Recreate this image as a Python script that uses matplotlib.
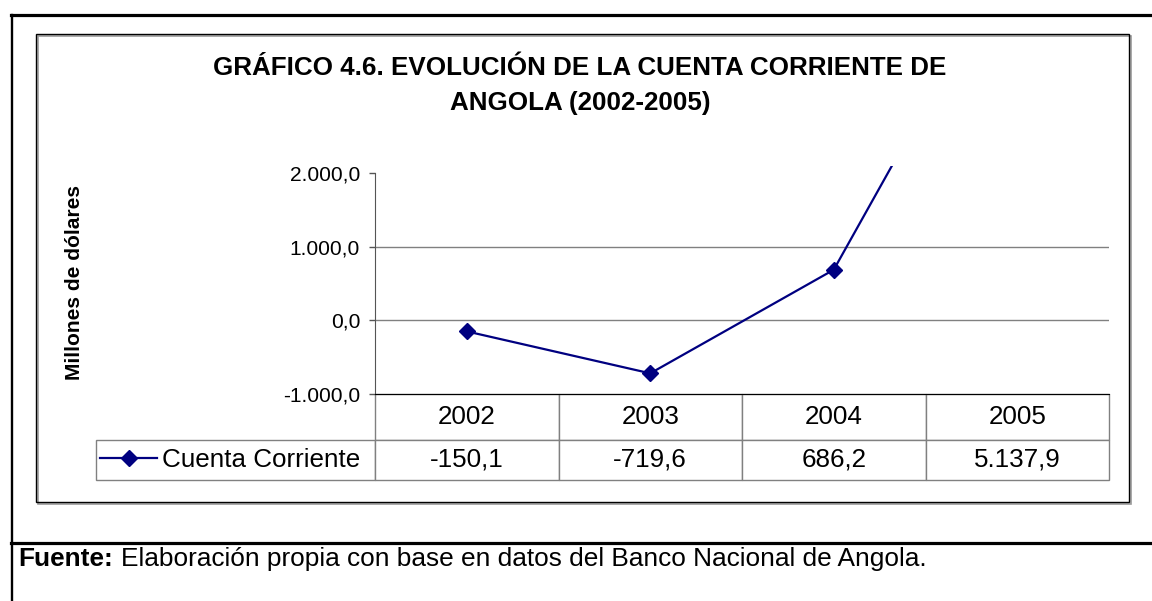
import matplotlib
matplotlib.use("Agg")
import matplotlib.pyplot as plt
from matplotlib.lines import Line2D
from matplotlib.patches import Rectangle
from matplotlib.ticker import FuncFormatter

plt.rcParams["font.family"] = ["Liberation Sans", "DejaVu Sans"]

years = ["2002", "2003", "2004", "2005"]
cuenta_corriente = [-150.1, -719.6, 686.2, 5137.9]
y_ticks = [-1000, 0, 1000, 2000]
grid_values = [0, 1000]
series_name = "Cuenta Corriente"
title = "GRÁFICO 4.6. EVOLUCIÓN DE LA CUENTA CORRIENTE DE\nANGOLA (2002-2005)"
y_label = "Millones de dólares"
source_bold = "Fuente:"
source_text = "Elaboración propia con base en datos del Banco Nacional de Angola."

NAVY = "#000080"
W, H = 1152, 601


def es_number(v, pos=None):
    # 1234.5 -> "1.234,5"
    s = f"{v:,.1f}"
    return s.replace(",", "X").replace(".", ",").replace("X", ".")


def fx(px):
    return px / W


def fy(px):
    return 1 - px / H


fig = plt.figure(figsize=(W / 100, H / 100), dpi=100)

# frame lines of the page
fig.add_artist(Line2D([fx(11), 1], [fy(15), fy(15)], color="black", lw=2.3))
fig.add_artist(Line2D([fx(12), fx(12)], [fy(15), 0], color="black", lw=1.7))
fig.add_artist(Line2D([fx(11), 1], [fy(543), fy(543)], color="black", lw=2.3))

# chart area box with small shadow
bx0, by0, bx1, by1 = 36, 34, 1129, 502
fig.add_artist(Rectangle((fx(bx0 + 2), fy(by1 + 2)), fx(bx1 - bx0), (by1 - by0) / H,
                         fill=False, edgecolor="#9a9a9a", lw=1.2))
fig.add_artist(Rectangle((fx(bx0), fy(by1)), fx(bx1 - bx0), (by1 - by0) / H,
                         fill=False, edgecolor="black", lw=1.0))

# plot area
y_top_px, y_bot_px = 165.6, 394
ax = fig.add_axes([fx(375), fy(y_bot_px), fx(1109 - 375), (y_bot_px - y_top_px) / H])
x = list(range(len(years)))
line, = ax.plot(x, cuenta_corriente, color=NAVY, lw=1.6, marker="D", ms=8,
                markerfacecolor=NAVY, markeredgecolor=NAVY, zorder=4)
ax.set_xlim(-0.5, len(years) - 0.5)
ax.set_ylim(-1000, 2100)
ax.hlines(grid_values, -0.5, len(years) - 0.5, colors="#808080", lw=1.0, zorder=1)

ax.set_yticks(y_ticks)
ax.yaxis.set_major_formatter(FuncFormatter(es_number))
ax.tick_params(axis="y", length=4.3, width=1, color="#555555", pad=6.5, labelsize=15.1)
ax.set_xticks([])
for side in ["top", "right"]:
    ax.spines[side].set_visible(False)
ax.spines["left"].set_bounds(-1000, 2000)
ax.spines["left"].set_color("#555555")
ax.spines["bottom"].set_color("black")
ax.spines["bottom"].set_zorder(5)

# data table below the plot (first column holds the legend key)
ah = y_bot_px - y_top_px
row_label_w = (375 - 96) / (1109 - 375)
tbl = ax.table(cellText=[[""] + [es_number(v) for v in cuenta_corriente]],
               colLabels=[""] + years,
               colWidths=[row_label_w] + [0.25] * len(years),
               cellLoc="center", colLoc="center",
               bbox=[-row_label_w, -(480 - y_bot_px) / ah, 1 + row_label_w, (480 - y_bot_px) / ah])
tbl.auto_set_font_size(False)
tbl.set_fontsize(18.7)
for (r, c), cell in tbl.get_celld().items():
    cell.set_edgecolor("#808080")
    cell.set_linewidth(1.0)
    cell.set_height(46 if r == 0 else 40)
tbl[0, 0].visible_edges = "open"

ax.legend([line], [series_name], loc="center left",
          bbox_to_anchor=((100 - 375) / (1109 - 375), -(460 - y_bot_px) / ah),
          frameon=False, fontsize=18.7, handlelength=2.2, handletextpad=0.2,
          borderpad=0, borderaxespad=0, numpoints=1)

fig.text(fx(580), fy(85.5), title, ha="center", va="center", multialignment="center",
         fontsize=18.7, fontweight="bold", linespacing=1.56)
fig.text(fx(75), fy(283), y_label, rotation=90, ha="center", va="center",
         fontsize=15.1, fontweight="bold")

t1 = fig.text(fx(18), fy(566), source_bold, ha="left", va="baseline",
              fontsize=18.9, fontweight="bold")
fig.canvas.draw()
bb = t1.get_window_extent()
fig.text((bb.x1 + 8) / W, fy(566), source_text, ha="left", va="baseline", fontsize=18.9)

fig.savefig("out.png", dpi=100, facecolor="white")
